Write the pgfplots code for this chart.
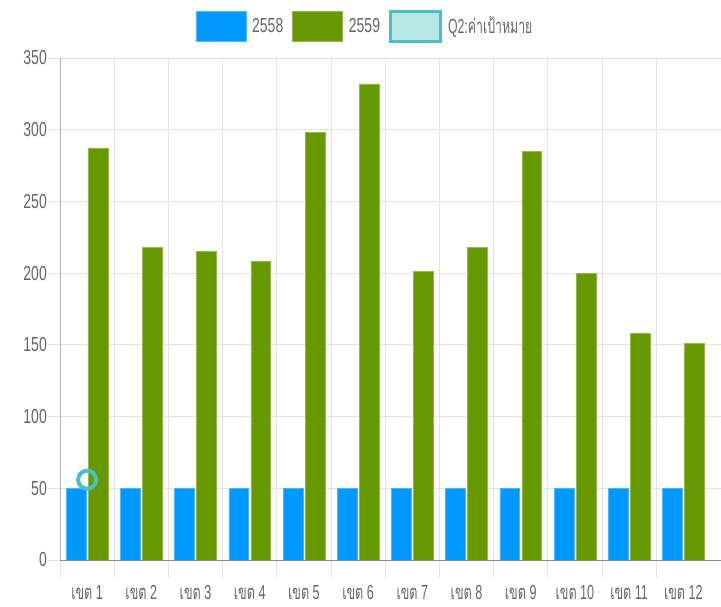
\documentclass[border=0pt]{standalone}
\usepackage{fontspec}
\setmainfont{Liberation Sans}
\newfontfamily\thaifont[Script=Thai]{Loma}
\usepackage{pgfplots}
\pgfplotsset{compat=1.18}
\definecolor{cblue}{RGB}{0,153,255}
\definecolor{cgreen}{RGB}{102,153,0}
\definecolor{cteal}{RGB}{75,192,192}
\definecolor{clteal}{RGB}{183,230,230}
\definecolor{cgrid}{RGB}{228,228,228}
\definecolor{ctext}{RGB}{102,102,102}
\pgfplotsset{mylegend/.style={legend image code/.code={\draw[##1] (0bp,-15bp) rectangle (50bp,15bp);}}}
\newcommand{\khet}[1]{\scalebox{0.9}[1]{{\thaifont เขต} #1}}
\begin{document}
\begin{tikzpicture}
\begin{axis}[
  set layers,
  at={(0,0)}, anchor=south west,
  scale only axis, width=661bp, height=502bp,
  xmin=0.5, xmax=12.695, ymin=0, ymax=350,
  ybar, bar width=0.365,
  axis x line*=bottom, axis y line*=left,
  x axis line style={draw=black!45, line width=0.8bp, -},
  y axis line style={draw=black!30, line width=0.8bp, -},
  xtick={1,...,12},
  xticklabels={\khet{1},\khet{2},\khet{3},\khet{4},\khet{5},\khet{6},\khet{7},\khet{8},\khet{9},\khet{10},\khet{11},\khet{12}},
  minor xtick={0.5,1.5,...,11.5},
  xminorgrids=true, ymajorgrids=true,
  grid style={draw=cgrid, line width=0.8bp},
  minor grid style={draw=cgrid, line width=0.8bp},
  tick align=outside,
  major tick length=12bp, minor tick length=18bp,
  xtick style={draw=none},
  minor x tick style={draw=cgrid, line width=0.8bp},
  ytick={0,50,...,350},
  ytick style={draw=cgrid, line width=0.8bp},
  yticklabel={\pgfmathprintnumber[assume math mode=true]{\tick}},
  tick label style={font=\fontsize{14bp}{16bp}\selectfont, text=ctext, yscale=1.45, inner sep=0pt},
  yticklabel style={anchor=east, xshift=-1bp},
  xticklabel style={anchor=base, yshift=-19.3bp},
  legend columns=-1,
  legend style={at={(0.4614,1.0637)}, anchor=center, draw=none, fill=none,
    font=\fontsize{14bp}{16bp}\selectfont, text=ctext,
    nodes={inner sep=2bp},
    /tikz/every odd column/.append style={column sep=4bp},
    /tikz/every even column/.append style={column sep=7bp}},
]
\addplot[forget plot, on layer=axis grid, sharp plot, draw=cteal, line width=4bp, mark=o, mark size=9bp,
  mark options={draw=cteal, line width=4bp}] coordinates {(1,56)};
\addplot[mylegend, fill=cblue, draw=cblue!70!white, line width=0.6bp, bar shift=-0.203] coordinates {
(1,50) (2,50) (3,50) (4,50) (5,50) (6,50) (7,50) (8,50) (9,50) (10,50) (11,50) (12,50)};
\addlegendentry{\scalebox{1}[1.45]{2558}}
\addplot[mylegend, fill=cgreen, draw=cgreen!70!white, line width=0.6bp, bar shift=0.203] coordinates {
(1,287) (2,218) (3,215) (4,208) (5,298) (6,332) (7,201) (8,218) (9,285) (10,200) (11,158) (12,151)};
\addlegendentry{\scalebox{1}[1.45]{2559}}
\addlegendimage{mylegend, fill=clteal, draw=cteal, line width=3bp}
\addlegendentry{\scalebox{0.88}[1.45]{Q2:{\thaifont ค่าเป้าหมาย}}}
\end{axis}
\pgfresetboundingbox
\useasboundingbox (-60bp,-47bp) rectangle (661bp,560bp);
\end{tikzpicture}
\end{document}
